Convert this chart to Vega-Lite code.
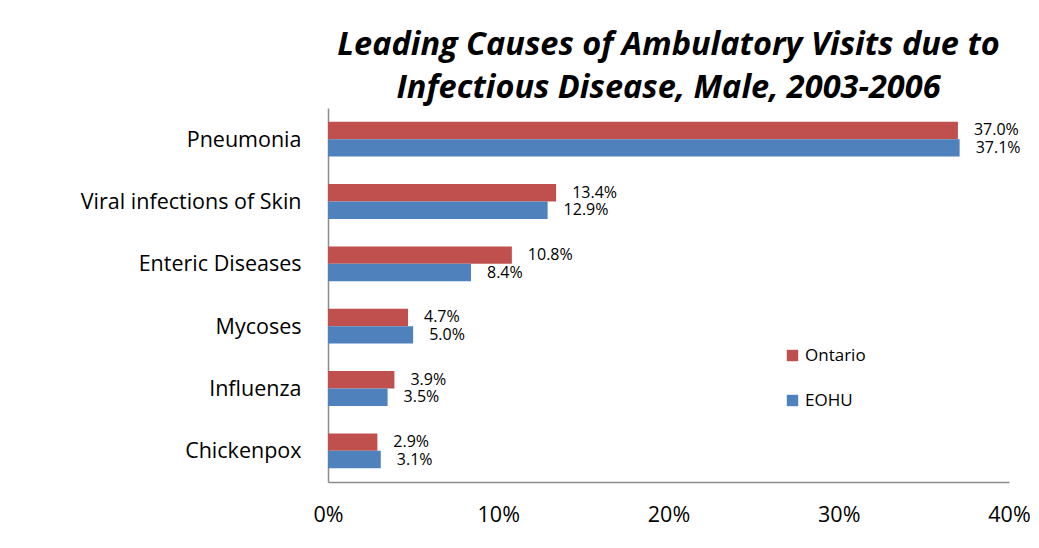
{
  "$schema": "https://vega.github.io/schema/vega-lite/v6.json",
  "width": 681,
  "height": 374,
  "autosize": {"type": "none"},
  "padding": {"left": 328, "top": 108, "right": 30, "bottom": 66},
  "background": "white",
  "title": {
    "text": ["Leading Causes of Ambulatory Visits due to", "Infectious Disease, Male, 2003-2006"],
    "font": "Open Sans",
    "fontSize": 32.5,
    "fontWeight": "bold",
    "fontStyle": "italic",
    "color": "black",
    "anchor": "middle",
    "lineHeight": 43,
    "offset": 4
  },
  "data": {
    "values": [
      {"cause": "Pneumonia", "region": "Ontario", "pct": 0.370},
      {"cause": "Pneumonia", "region": "EOHU", "pct": 0.371},
      {"cause": "Viral infections of Skin", "region": "Ontario", "pct": 0.134},
      {"cause": "Viral infections of Skin", "region": "EOHU", "pct": 0.129},
      {"cause": "Enteric Diseases", "region": "Ontario", "pct": 0.108},
      {"cause": "Enteric Diseases", "region": "EOHU", "pct": 0.084},
      {"cause": "Mycoses", "region": "Ontario", "pct": 0.047},
      {"cause": "Mycoses", "region": "EOHU", "pct": 0.050},
      {"cause": "Influenza", "region": "Ontario", "pct": 0.039},
      {"cause": "Influenza", "region": "EOHU", "pct": 0.035},
      {"cause": "Chickenpox", "region": "Ontario", "pct": 0.029},
      {"cause": "Chickenpox", "region": "EOHU", "pct": 0.031}
    ]
  },
  "encoding": {
    "y": {
      "field": "cause",
      "type": "nominal",
      "sort": null,
      "title": null,
      "scale": {"paddingInner": 0.44, "paddingOuter": 0.22},
      "axis": {
        "ticks": false,
        "labelFont": "Open Sans",
        "labelFontSize": 21.5,
        "labelColor": "black",
        "labelPadding": 27,
        "labelLimit": 400,
        "labelOffset": 1.5,
        "domainColor": "#8c8c8c",
        "domainWidth": 1.5
      }
    },
    "yOffset": {"field": "region", "type": "nominal", "sort": ["Ontario", "EOHU"]},
    "x": {
      "field": "pct",
      "type": "quantitative",
      "title": null,
      "scale": {"domain": [0, 0.4]},
      "axis": {
        "format": ".0%",
        "values": [0, 0.1, 0.2, 0.3, 0.4],
        "grid": false,
        "ticks": false,
        "labelOverlap": false,
        "labelFlush": false,
        "labelBound": false,
        "labelFont": "Open Sans",
        "labelFontSize": 21.5,
        "labelColor": "black",
        "labelPadding": 22,
        "domainColor": "#8c8c8c",
        "domainWidth": 1.5
      }
    }
  },
  "layer": [
    {
      "mark": {"type": "bar"},
      "encoding": {
        "color": {
          "field": "region",
          "type": "nominal",
          "sort": ["Ontario", "EOHU"],
          "scale": {"domain": ["Ontario", "EOHU"], "range": ["#C0504D", "#4F81BD"]},
          "legend": {
            "title": null,
            "orient": "none",
            "legendX": 456,
            "legendY": 239,
            "symbolType": "square",
            "symbolSize": 130,
            "symbolStrokeWidth": 0,
            "labelFont": "Open Sans",
            "labelFontSize": 17,
            "labelColor": "black",
            "labelOffset": 4,
            "rowPadding": 27
          }
        }
      }
    },
    {
      "mark": {"type": "text", "align": "left", "baseline": "middle", "dx": 16, "font": "Open Sans", "fontSize": 16, "color": "black"},
      "encoding": {
        "text": {"field": "pct", "type": "quantitative", "format": ".1%"}
      }
    }
  ],
  "config": {"view": {"stroke": null}}
}
